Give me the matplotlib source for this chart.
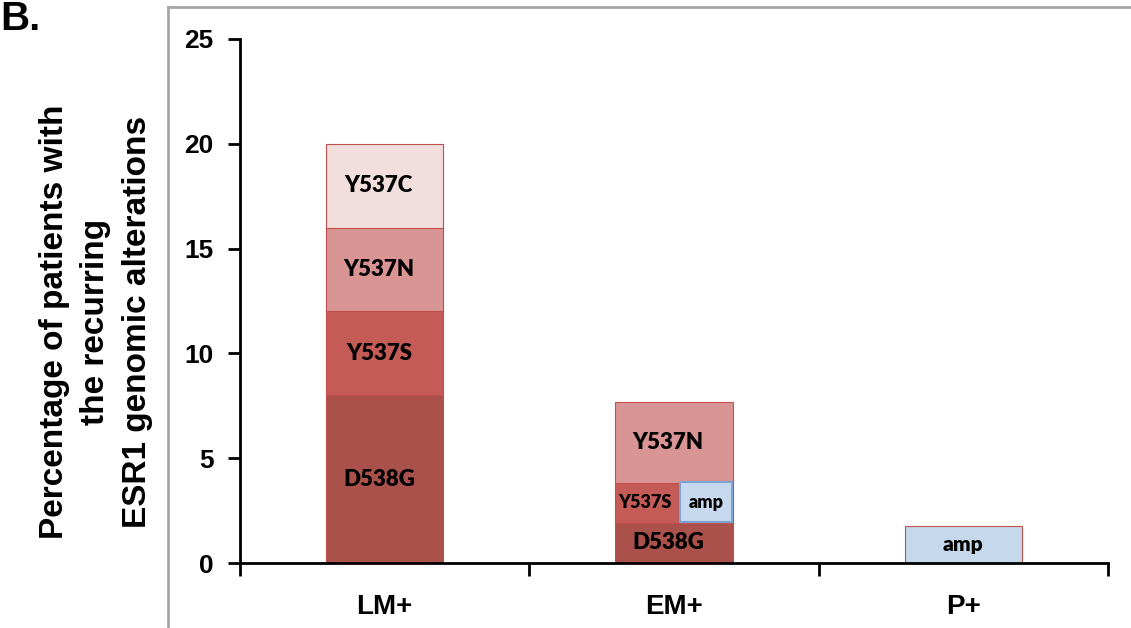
import matplotlib.pyplot as plt

# data (percent of patients)
groups = ['LM+', 'EM+', 'P+']
mutations = ['D538G', 'Y537S', 'Y537N', 'Y537C']
D538G = [8.0, 1.92, 0.0]
Y537S = [4.0, 1.92, 0.0]
Y537N = [4.0, 3.85, 0.0]
Y537C = [4.0, 0.0, 0.0]
amp = [0.0, 1.9, 1.75]
yticks = [0, 5, 10, 15, 20, 25]

colors = {'D538G': '#A9514A', 'Y537S': '#C55B56', 'Y537N': '#D99594', 'Y537C': '#F2DEDD'}
amp_color = '#C6D9EE'
edge = '#C0504D'
label_font = ['Lato', 'DejaVu Sans']

fig = plt.figure(figsize=(11.31, 6.28), dpi=100)
ax = fig.add_axes([0.2122, 0.1035, 0.7675, 0.8344])

series = {'D538G': D538G, 'Y537S': Y537S, 'Y537N': Y537N, 'Y537C': Y537C}
w = 0.405
bottom = [0.0, 0.0, 0.0]
for name in mutations:
    vals = series[name]
    for i in range(len(groups)):
        if vals[i] <= 0:
            continue
        ax.bar(i, vals[i], width=w, bottom=bottom[i], color=colors[name],
               edgecolor=edge, linewidth=0.8, zorder=2)
        mid = bottom[i] + vals[i] / 2
        if i == 1 and name == 'Y537S':
            ax.text(i - 0.1, mid, name, ha='center', va='center', fontsize=13,
                    fontweight='heavy', family=label_font, zorder=4)
        else:
            ax.text(i - 0.02, mid, name, ha='center', va='center', fontsize=16,
                    fontweight='heavy', family=label_font, zorder=4)
        bottom[i] += vals[i]

# amplification boxes
ax.bar(1.11, amp[1], width=0.18, bottom=1.96, color=amp_color,
       edgecolor='#7DA3D0', linewidth=1.5, zorder=3)
ax.text(1.11, 1.96 + amp[1] / 2, 'amp', ha='center', va='center', fontsize=13,
        fontweight='heavy', family=label_font, zorder=4)
ax.bar(2, amp[2], width=w, color='#C5D8EC', edgecolor=edge, linewidth=0.8, zorder=2)
ax.text(2, amp[2] / 2, 'amp', ha='center', va='center', fontsize=15,
        fontweight='heavy', family=label_font, zorder=4)

ax.set_xlim(-0.5, 2.5)
ax.set_ylim(0, 25)
ax.set_yticks(yticks)
ax.set_yticklabels([str(t) for t in yticks])
ax.set_xticks([-0.5, 0.5, 1.5, 2.5])
ax.set_xticklabels([])
ax.set_xticks([0, 1, 2], minor=True)
ax.set_xticklabels(groups, minor=True)
ax.tick_params(axis='x', which='minor', length=0, pad=22)
ax.tick_params(axis='x', which='major', direction='out', length=9, width=2)
ax.tick_params(axis='y', direction='out', length=9, width=2, pad=10)
for lab in ax.get_xticklabels(minor=True):
    lab.set_fontfamily('Liberation Sans')
    lab.set_fontweight('bold')
    lab.set_fontsize(20)
for lab in ax.get_yticklabels():
    lab.set_fontfamily('Liberation Sans')
    lab.set_fontweight('bold')
    lab.set_fontsize(19)

for s in ['top', 'right']:
    ax.spines[s].set_visible(False)
ax.spines['left'].set_linewidth(2)
ax.spines['bottom'].set_linewidth(2)

ax.set_ylabel('Percentage of patients with\nthe recurring\nESR1 genomic alterations',
              family='Liberation Sans', fontweight='bold', fontsize=24,
              linespacing=1.45)
ax.yaxis.set_label_coords(-0.1, 0.46)

# gray frame around the panel
fig.add_artist(plt.Line2D([0.1485, 0.1485], [0.0, 0.989], color='#A6A6A6',
                          linewidth=2, transform=fig.transFigure))
fig.add_artist(plt.Line2D([0.1485, 1.0], [0.989, 0.989], color='#A6A6A6',
                          linewidth=2, transform=fig.transFigure))

fig.text(0.0, 1.0, 'B.', ha='left', va='top', fontsize=29, fontweight='bold',
         family='Liberation Sans')

plt.savefig('out.png', dpi=100)
